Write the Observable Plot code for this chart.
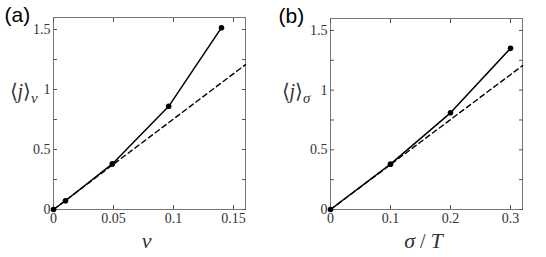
<!DOCTYPE html>
<html>
<head>
<meta charset="utf-8">
<script src="https://cdn.jsdelivr.net/npm/d3@7"></script>
<script src="https://cdn.jsdelivr.net/npm/@observablehq/plot@0.6"></script>
<style>
  html, body { margin: 0; padding: 0; background: #fff; }
  #wrap { display: flex; width: 546px; height: 257px; }
  #wrap svg { display: block; }
  #wrap svg text, #wrap svg tspan { font-family: 'Liberation Serif', 'Times New Roman', serif; }
</style>
</head>
<body>
<div id="wrap"></div>
<script>
// Panel (a)
const xA = [0, 0.01, 0.049, 0.096, 0.14];
const yA = [0, 0.073, 0.38, 0.86, 1.515];
const dashXA = [0, 0.16];
const dashYA = [0, 1.207];
const xTicksA = [0, 0.05, 0.1, 0.15];

// Panel (b)
const xB = [0, 0.1, 0.2, 0.3];
const yB = [0, 0.38, 0.81, 1.35];
const dashXB = [0, 0.32];
const dashYB = [0, 1.205];
const xTicksB = [0, 0.1, 0.2, 0.3];

// Shared y ticks
const yTicks = [0, 0.5, 1, 1.5];
const yMinor = [0.25, 0.75, 1.25];
const yAll = [0, 0.25, 0.5, 0.75, 1, 1.25, 1.5];

const fmt = d => String(d);
const TICKC = "#555";
const FRAMEC = "#777";
const LABELC = "#333";

function panel({xs, ys, dx, dy, xDomain, xTicks, margins, tag, yLabel, ySub, xLabel, yLabelDx, tagDx}) {
  const pts = xs.map((x, i) => ({x, y: ys[i]}));
  const dash = dx.map((x, i) => ({x, y: dy[i]}));
  const plot = Plot.plot({
    width: 273,
    height: 257,
    marginLeft: margins[0],
    marginRight: margins[1],
    marginTop: margins[2],
    marginBottom: margins[3],
    style: {fontSize: "14px", color: LABELC, background: "#fff"},
    x: {domain: xDomain},
    y: {domain: [0, 1.6]},
    marks: [
      Plot.frame({stroke: FRAMEC, strokeWidth: 1}),
      Plot.axisX({anchor: "bottom", ticks: xTicks, tickSize: -4, tickPadding: 8, tickFormat: fmt, stroke: TICKC, label: null, fill: LABELC, fontSize: 14}),
      Plot.axisX({anchor: "top", ticks: xTicks, tickSize: -4, tickFormat: () => "", stroke: TICKC, label: null}),
      Plot.axisY({anchor: "left", ticks: yTicks, tickSize: -4, tickPadding: 7, tickFormat: fmt, stroke: TICKC, label: null, fill: LABELC, fontSize: 14}),
      Plot.axisY({anchor: "left", ticks: yMinor, tickSize: -4, tickFormat: () => "", stroke: TICKC, label: null}),
      Plot.axisY({anchor: "right", ticks: yAll, tickSize: -4, tickFormat: () => "", stroke: TICKC, label: null}),
      Plot.line(dash, {x: "x", y: "y", stroke: "#000", strokeWidth: 1.4, strokeDasharray: "5,3.5"}),
      Plot.line(pts, {x: "x", y: "y", stroke: "#000", strokeWidth: 1.5}),
      Plot.dot(pts, {x: "x", y: "y", r: 2.8, fill: "#000"}),
      Plot.text([tag], {frameAnchor: "top-left", text: d => d, textAnchor: "start", lineAnchor: "middle", dx: tagDx, dy: -2,
        fontSize: 21, fill: "#000"}),
      Plot.text([yLabel], {frameAnchor: "left", text: d => d, textAnchor: "start", lineAnchor: "middle", dx: yLabelDx, dy: -22,
        fontSize: 20, fill: LABELC}),
      Plot.text([xLabel], {frameAnchor: "bottom", text: d => d, textAnchor: "middle", lineAnchor: "middle", dx: -3, dy: 31,
        fontSize: 22, fontStyle: "italic", fill: LABELC})
    ]
  });
  const ns = "http://www.w3.org/2000/svg";
  plot.querySelectorAll("text").forEach(t => {
    if (t.textContent === tag) {
      t.style.fontFamily = "'Liberation Sans', Arial, sans-serif";
    } else if (t.textContent === yLabel) {
      t.textContent = "";
      const parts = [["⟨", "normal", null, null], ["j", "italic", null, null], ["⟩", "normal", null, null], [ySub, "italic", "15px", "5"]];
      for (const [s, st, fs, ddy] of parts) {
        const ts = document.createElementNS(ns, "tspan");
        ts.textContent = s;
        ts.setAttribute("font-style", st);
        if (fs) ts.setAttribute("font-size", fs);
        if (ddy) ts.setAttribute("dy", ddy);
        t.appendChild(ts);
      }
    } else if (t.textContent === xLabel && xLabel.includes("/")) {
      t.textContent = "";
      const parts = [["σ", "italic"], [" / ", "normal"], ["T", "italic"]];
      for (const [s, st] of parts) {
        const ts = document.createElementNS(ns, "tspan");
        ts.textContent = s;
        ts.setAttribute("font-style", st);
        if (s === " / ") ts.setAttribute("font-size", "20px");
        t.appendChild(ts);
      }
    }
  });
  return plot;
}

const wrap = document.getElementById("wrap");
wrap.appendChild(panel({
  xs: xA, ys: yA, dx: dashXA, dy: dashYA, xDomain: [0, 0.16], xTicks: xTicksA,
  margins: [53, 28, 17, 48], tag: "(a)", yLabel: "⟨j⟩ν", ySub: "ν", xLabel: "ν", yLabelDx: -44, tagDx: -49
}));
wrap.appendChild(panel({
  xs: xB, ys: yB, dx: dashXB, dy: dashYB, xDomain: [0, 0.32], xTicks: xTicksB,
  margins: [57, 24, 18, 48], tag: "(b)", yLabel: "⟨j⟩σ", ySub: "σ", xLabel: "σ/T", yLabelDx: -49, tagDx: -52
}));
</script>
</body>
</html>
